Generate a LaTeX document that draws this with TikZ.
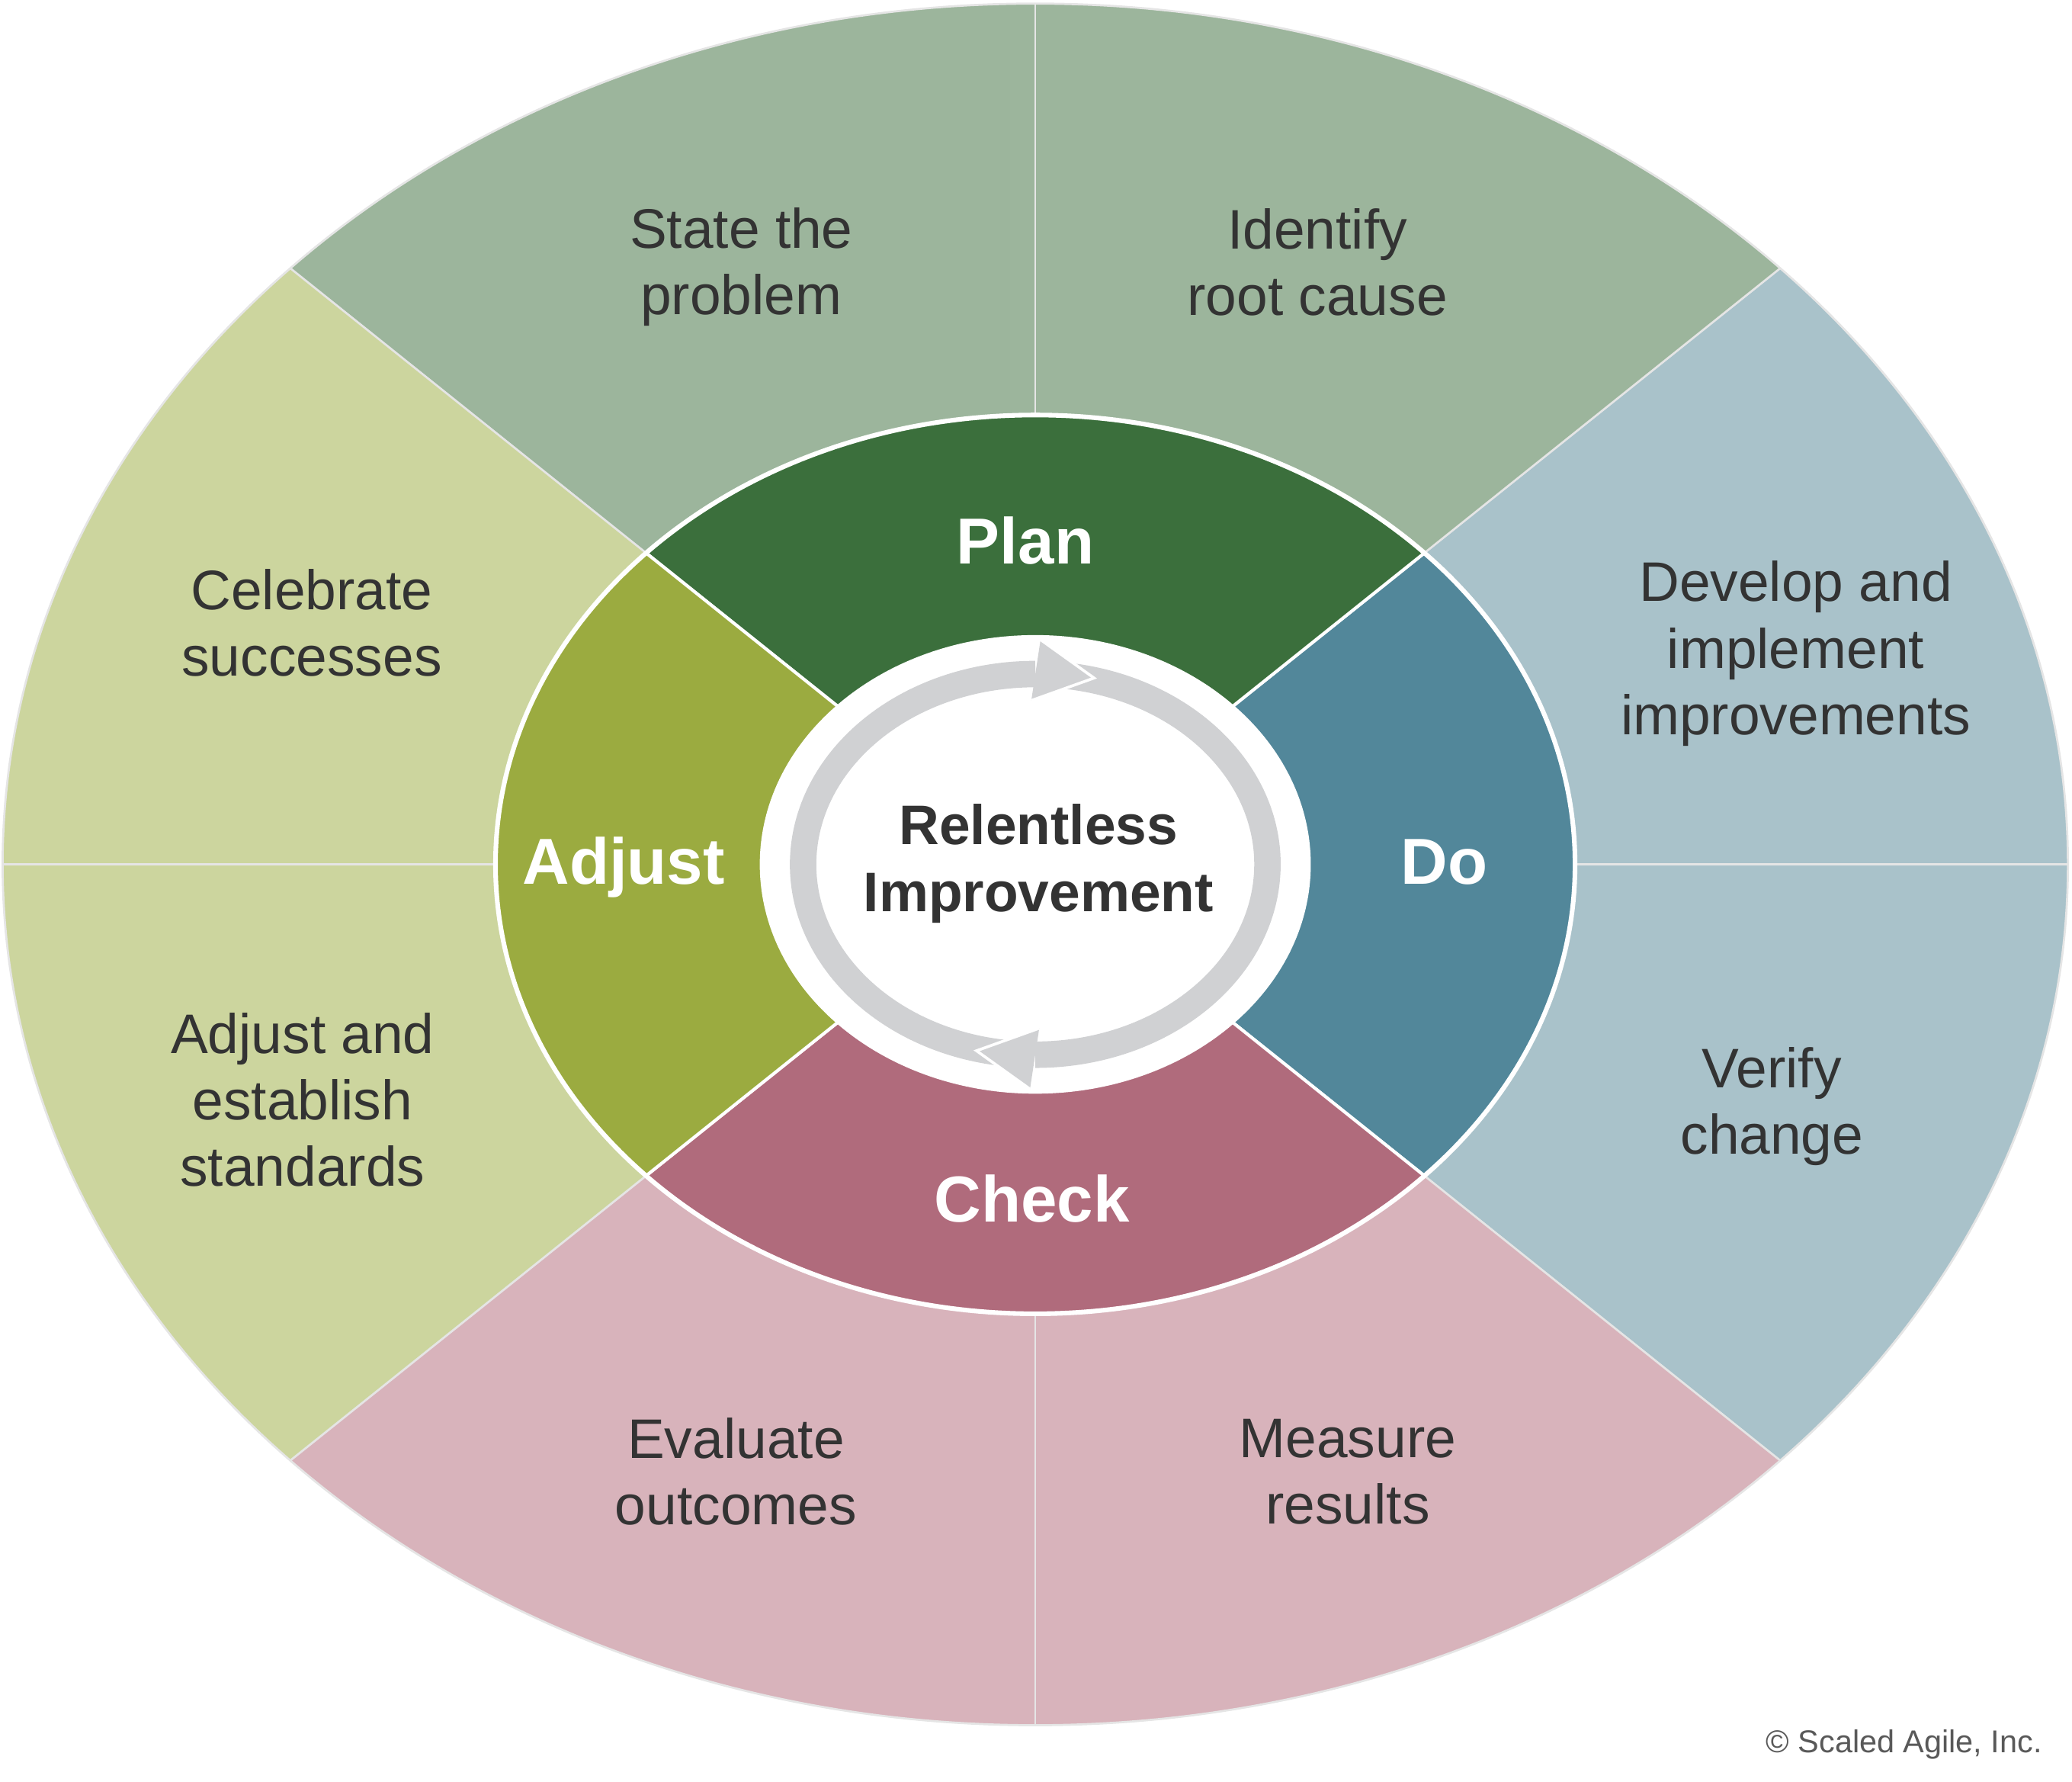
\documentclass[tikz,border=0pt]{standalone}
\usepackage{fontspec}
\setmainfont{Liberation Sans}
\definecolor{planD}{HTML}{3B6F3C}
\definecolor{planL}{HTML}{9CB59C}
\definecolor{doD}{HTML}{52879A}
\definecolor{doL}{HTML}{A9C2CA}
\definecolor{checkD}{HTML}{B06B7C}
\definecolor{checkL}{HTML}{D8B3BB}
\definecolor{adjD}{HTML}{9BAB40}
\definecolor{adjL}{HTML}{CCD59E}
\definecolor{ringgray}{HTML}{D0D1D3}
\definecolor{txt}{HTML}{333333}
\definecolor{copytxt}{HTML}{595959}
\tikzset{
  stage/.style={text=txt,align=center,font=\fontsize{12}{14.3}\selectfont},
  phase/.style={text=white,font=\bfseries\fontsize{14}{16}\selectfont},
  sepline/.style={draw=white!90!black,line width=0.45pt}
}
\begin{document}
\begin{tikzpicture}
\pgfmathsetmacro{\ra}{7.815}
\pgfmathsetmacro{\rb}{6.513}
\pgfmathsetmacro{\ma}{4.085}
\pgfmathsetmacro{\mb}{3.40}
\pgfmathsetmacro{\ia}{2.085}
\pgfmathsetmacro{\ib}{1.735}
\pgfmathsetmacro{\ga}{1.757}
\pgfmathsetmacro{\gb}{1.44}
\pgfmathsetmacro{\cut}{38.66}
\useasboundingbox (-7.835,6.54) rectangle (7.846,-6.942);
\begin{scope}
\clip (0,0) ellipse [x radius=\ra,y radius=\rb];
\foreach \c/\s/\e in {doL/-\cut/\cut,planL/\cut/180-\cut,adjL/180-\cut/180+\cut,checkL/180+\cut/360-\cut}
  \fill[\c] (0,0)--({\s}:15)--({(\s+\e)/2}:15)--({\e}:15)--cycle;
\foreach \a in {0,90,180,270,\cut,180-\cut,180+\cut,-\cut}
  \draw[sepline] (0,0)--({\a}:15);
\end{scope}
\draw[sepline] (0,0) ellipse [x radius=\ra,y radius=\rb];
\begin{scope}
\clip (0,0) ellipse [x radius=\ma,y radius=\mb];
\foreach \c/\s/\e in {doD/-\cut/\cut,planD/\cut/180-\cut,adjD/180-\cut/180+\cut,checkD/180+\cut/360-\cut}
  \fill[\c] (0,0)--({\s}:15)--({(\s+\e)/2}:15)--({\e}:15)--cycle;
\foreach \a in {\cut,180-\cut,180+\cut,-\cut}
  \draw[white,line width=0.7pt] (0,0)--({\a}:15);
\end{scope}
\draw[white,line width=1pt] (0,0) ellipse [x radius=\ma,y radius=\mb];
\fill[white] (0,0) ellipse [x radius=\ia,y radius=\ib];
\foreach \r in {0,180}
  \draw[ringgray,line width=0.2cm,rotate=\r] (265:{\ga} and {\gb}) arc[start angle=265,end angle=90,x radius=\ga,y radius=\gb];
\foreach \r in {0,180}{
  \fill[ringgray,rotate=\r] (0.04,1.70)--(0.445,1.41)--(-0.03,1.24)--cycle;
  \draw[white,line width=0.6pt,rotate=\r] (0.04,1.70)--(0.445,1.41)--(-0.03,1.24);
}
\node[stage] (state) at (-2.225,4.52) {State the\\problem};
\node[stage] (root) at (2.135,4.555) {Identify\\root cause};
\node[stage] (develop) at (5.755,1.595) {Develop and\\implement\\improvements};
\node[stage] (verify) at (5.575,-1.83) {Verify\\change};
\node[stage] (measure) at (2.365,-4.595) {Measure\\results};
\node[stage] (evaluate) at (-2.265,-4.595) {Evaluate\\outcomes};
\node[stage] (standards) at (-5.545,-1.78) {Adjust and\\establish\\standards};
\node[stage] (celebrate) at (-5.475,1.825) {Celebrate\\successes};
\node[phase] (plan) at (-0.075,2.45) {Plan};
\node[phase] (do) at (3.095,0.02) {Do};
\node[phase] (check) at (-0.025,-2.53) {Check};
\node[phase] (adjust) at (-3.115,-0.02) {Adjust};
\node[text=txt,align=center,font=\bfseries\fontsize{12}{14.5}\selectfont] (core) at (0.025,0.005) {Relentless\\Improvement};
\node[text=copytxt,font=\fontsize{6.8}{8}\selectfont] (copy) at (6.575,-6.66) {© Scaled Agile, Inc.};
\end{tikzpicture}
\end{document}
